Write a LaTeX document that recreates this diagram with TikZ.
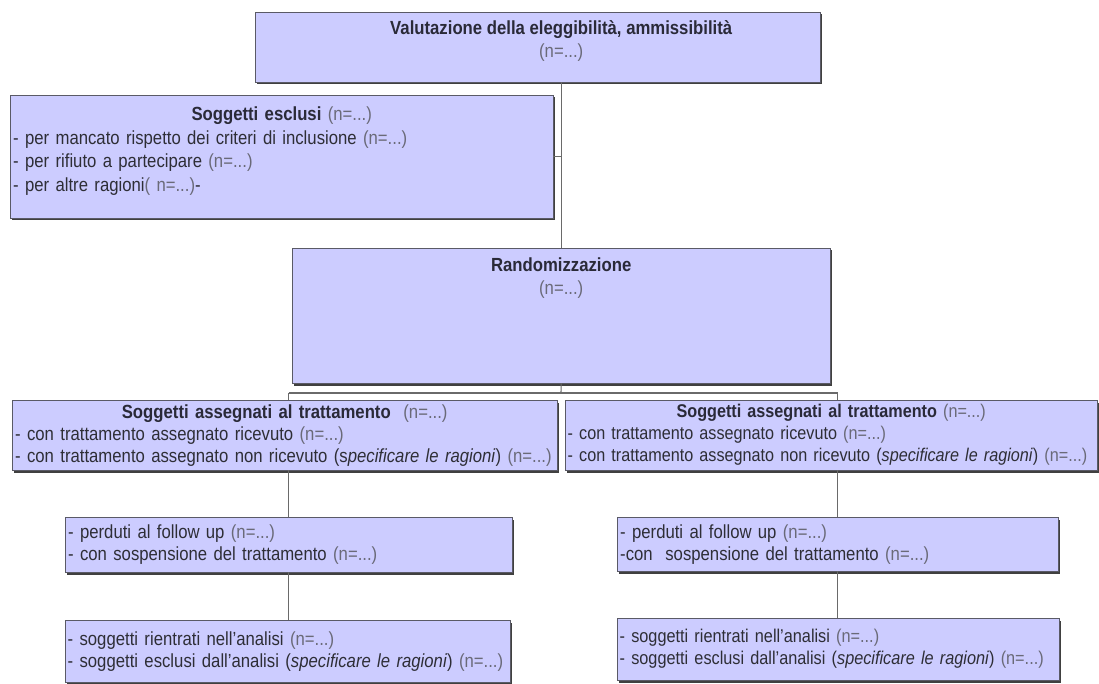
\documentclass[tikz,border=0pt]{standalone}
\usepackage{fontspec}
\setmainfont{Liberation Sans}[FakeStretch=0.88]
\usetikzlibrary{shadows}

\definecolor{boxfill}{HTML}{CCCCFF}
\definecolor{boxline}{HTML}{5A5A66}
\definecolor{titletext}{HTML}{2A2A38}
\definecolor{bodytext}{HTML}{2E2E36}
\definecolor{ntext}{HTML}{6A6A78}
\definecolor{linkline}{HTML}{6A6A6A}

\newcommand{\nval}{\textcolor{ntext}{\mdseries(n=...)}}

\tikzset{
  flowbox/.style={draw=boxline, fill=boxfill, thin, anchor=north west, inner sep=2.5pt,
    drop shadow={shadow xshift=1.3pt, shadow yshift=-2.3pt, fill=black!75, opacity=1},
    font=\fontsize{19}{22}\selectfont, text=bodytext},
  boxtitle/.style={font=\fontsize{19}{23}\selectfont\bfseries, text=titletext},
  link/.style={draw=linkline, line width=1.1pt}
}

\begin{document}
\begin{tikzpicture}[x=1pt,y=-1pt]
    \useasboundingbox (0,0) rectangle (1099,684);

    % top of the flow
    \node[flowbox, minimum width=565pt, minimum height=70pt] (elig) at (255,12) {};
    \node[flowbox, minimum width=543pt, minimum height=123pt, text width=537pt, align=left,
          font=\fontsize{19}{23.5}\selectfont] (escl) at (10,95)
        {\makebox[\linewidth]{\bfseries\color{titletext}Soggetti esclusi \nval}\\
         - per mancato rispetto dei criteri di inclusione \nval\\
         - per rifiuto a partecipare \nval\\
         - per altre ragioni\textcolor{ntext}{( n=...)}-\rule[-15pt]{0pt}{15pt}};
    \node[flowbox, minimum width=538pt, minimum height=135pt] (rand) at (292,248) {};
    \node[boxtitle, align=center] (eligtxt) at ([yshift=6pt]elig.center -| rand.north)
        {Valutazione della eleggibilità, ammissibilità\\ \nval};
    \node[boxtitle, anchor=north, align=center] (randtxt) at (rand.north) [yshift=-6pt]
        {Randomizzazione\\ \nval};

    % two arms
    \node[flowbox, minimum width=545pt, minimum height=70pt, text width=539pt, align=left] (assL) at (12,400)
        {\makebox[\linewidth]{\bfseries\color{titletext}Soggetti assegnati al trattamento\ \ \nval}\\
         - con trattamento assegnato ricevuto \nval\\
         - con trattamento assegnato non ricevuto (s\textit{pecificare le ragioni}) \nval};
    \node[flowbox, minimum width=532pt, minimum height=70pt, text width=527pt, align=left,
          font=\fontsize{18.4}{22}\selectfont] (assR) at (565,400)
        {\makebox[\linewidth]{\bfseries\color{titletext}Soggetti assegnati al trattamento \nval}\\
         - con trattamento assegnato ricevuto \nval\\
         - con trattamento assegnato non ricevuto (\textit{specificare le ragioni}) \nval};

    \node[flowbox, minimum width=447pt, minimum height=55pt, text width=441pt, align=left] (follL) at (65,517)
        {- perduti al follow up \nval\\
         - con sospensione del trattamento \nval};
    \node[flowbox, minimum width=441pt, minimum height=54pt, text width=435pt, align=left] (follR) at (617,517)
        {- perduti al follow up \nval\\
         -con\ \ sospensione del trattamento \nval};

    \node[flowbox, minimum width=445pt, minimum height=62pt, text width=440pt, align=left] (analL) at (65,620)
        {- soggetti rientrati nell'analisi \nval\\
         - soggetti esclusi dall'analisi (\textit{specificare le ragioni}) \nval};
    \node[flowbox, minimum width=441pt, minimum height=62pt, text width=437pt, align=left,
          font=\fontsize{18.5}{22}\selectfont] (analR) at (617,618)
        {- soggetti rientrati nell'analisi \nval\\
         - soggetti esclusi dall'analisi (\textit{specificare le ragioni}) \nval};

    % connectors
    \coordinate (split) at (561,393);
    \draw[link] (rand.north |- elig.south) -- (rand.north);
    \draw[link] (escl.east) -- (escl.east -| rand.north);
    \draw[link] (rand.south) -- (split);
    \draw[link] (follL.north |- split) -- (follR.north |- split);
    \draw[link] (follL.north |- split) -- (follL.north |- assL.north);
    \draw[link] (follR.north |- split) -- (follR.north |- assR.north);
    \draw[link] (follL.north |- assL.south) -- (follL.north);
    \draw[link] (follR.north |- assR.south) -- (follR.north);
    \draw[link] (follL.south) -- (analL.north -| follL.south);
    \draw[link] (follR.south) -- (analR.north -| follR.south);

\end{tikzpicture}
\end{document}
